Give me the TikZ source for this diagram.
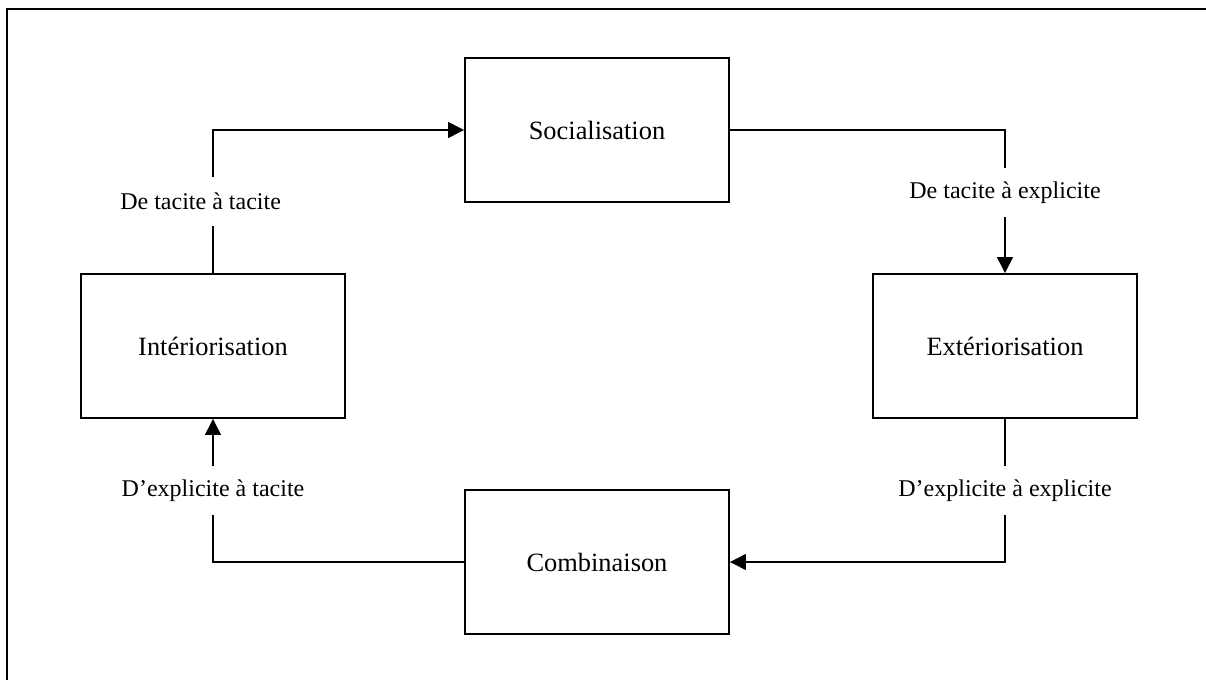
\documentclass[tikz,border=0pt]{standalone}
\usepackage{fontspec}
\setmainfont{Liberation Serif}
\usetikzlibrary{arrows.meta}
\begin{document}
\begin{tikzpicture}[x=0.5pt,y=-0.5pt,
  phase/.style={draw=black, line width=0.85pt, minimum width=132pt, minimum height=72pt,
    inner sep=0pt, font=\fontsize{13.2pt}{15pt}\selectfont},
  conn/.style={draw=black, line width=1.1pt, -{Triangle[length=8pt,width=7.8pt]}},
  lbl/.style={fill=white, inner xsep=2pt, inner ysep=0pt, minimum height=24.5pt,
    font=\fontsize{12pt}{14pt}\selectfont},
  framestyle/.style={draw=black, line width=1.1pt}]
\useasboundingbox (0,0) rectangle (1206,680);
\draw[framestyle] (7,680) -- (7,9) -- (1206,9);
\node[phase] (soc) at (597,130) {Socialisation};
\node[phase] (int) at (213,346) {Intériorisation};
\node[phase] (ext) at (1005,346) {Extériorisation};
\node[phase] (comb) at (597,562) {Combinaison};
\draw[conn] (int.north) |- node[lbl, pos=0.25, xshift=-6.2pt] (l1) {De tacite à tacite} (soc.west);
\draw[conn] (soc.east) -| node[lbl, pos=0.72] (l2) {De tacite à explicite} (ext.north);
\draw[conn] (ext.south) |- node[lbl, pos=0.25] (l3) {D’explicite à explicite} (comb.east);
\draw[conn] (comb.west) -| node[lbl, pos=0.75] (l4) {D’explicite à tacite} (int.south);
\end{tikzpicture}
\end{document}
